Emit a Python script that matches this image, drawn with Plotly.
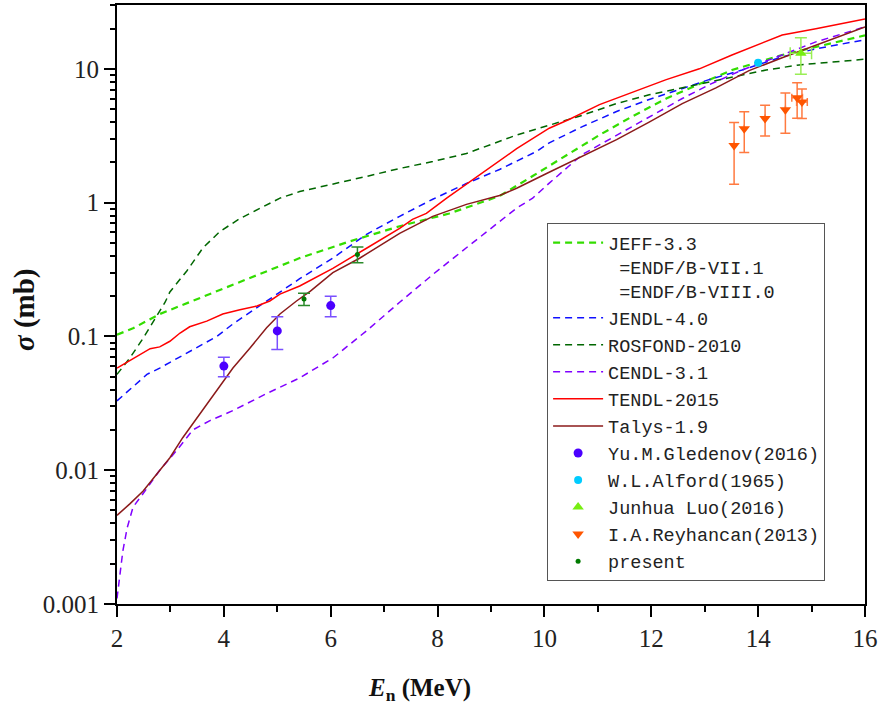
import numpy as np
import plotly.graph_objects as go

# evaluated data libraries
e_jeff = [2.0, 2.3, 2.8, 3.55, 4.49, 5.42, 6.36, 7.29, 8.22, 9.16, 9.78, 10.41, 11.03, 11.64, 12.28, 12.9, 13.51, 14.45, 15.08, 16.0]
s_jeff = [0.103, 0.115, 0.147, 0.194, 0.273, 0.385, 0.514, 0.666, 0.83, 1.12, 1.58, 2.25, 3.2, 4.4, 6.0, 7.7, 9.8, 12.7, 14.6, 17.8]

e_jendl = [2.0, 2.24, 2.56, 2.8, 3.23, 3.47, 3.87, 4.17, 4.8, 5.42, 6.04, 6.67, 7.29, 7.91, 8.54, 9.16, 9.85, 10.09, 10.71, 11.35, 11.96, 12.58, 13.08, 13.7, 14.45, 15.08, 16.0]
s_jendl = [0.033, 0.040, 0.052, 0.058, 0.072, 0.081, 0.100, 0.124, 0.184, 0.27, 0.385, 0.58, 0.79, 1.06, 1.39, 1.77, 2.41, 2.8, 3.7, 4.8, 5.9, 7.1, 8.3, 9.8, 12.3, 14.1, 16.5]

e_rosfond = [2.0, 2.24, 2.49, 2.71, 2.9, 2.99, 3.31, 3.61, 3.93, 4.3, 4.67, 5.05, 5.42, 6.04, 6.67, 7.29, 7.91, 8.54, 9.48, 10.71, 11.35, 11.96, 12.9, 13.51, 14.15, 14.77, 15.38, 16.0]
s_rosfond = [0.052, 0.069, 0.097, 0.137, 0.18, 0.215, 0.31, 0.46, 0.61, 0.76, 0.91, 1.08, 1.21, 1.37, 1.57, 1.80, 2.03, 2.33, 3.2, 4.5, 5.5, 6.4, 7.7, 8.7, 9.8, 10.7, 11.3, 11.8]

e_cendl = [2.0, 2.02, 2.06, 2.11, 2.19, 2.3, 2.49, 2.8, 3.12, 3.42, 3.74, 4.17, 4.8, 5.42, 6.04, 6.67, 7.29, 7.91, 8.54, 9.16, 9.48, 9.78, 10.09, 10.71, 11.35, 11.96, 12.58, 13.08, 13.7, 14.45, 15.08, 16.0]
s_cendl = [0.0011, 0.0013, 0.0017, 0.0025, 0.0037, 0.0053, 0.0067, 0.0100, 0.0141, 0.020, 0.0235, 0.0279, 0.0374, 0.049, 0.069, 0.11, 0.18, 0.29, 0.46, 0.72, 0.91, 1.08, 1.4, 2.29, 3.2, 4.4, 6.0, 7.6, 9.8, 12.7, 15.9, 20.6]

e_tendl = [2.0, 2.3, 2.62, 2.8, 2.99, 3.18, 3.36, 3.68, 3.98, 4.3, 4.62, 4.86, 5.05, 5.42, 6.04, 6.67, 7.29, 7.53, 7.79, 8.17, 8.54, 8.97, 9.48, 10.09, 10.47, 11.03, 11.64, 12.28, 12.9, 13.51, 14.45, 15.08, 16.0]
s_tendl = [0.058, 0.068, 0.081, 0.0835, 0.092, 0.106, 0.118, 0.130, 0.147, 0.158, 0.169, 0.184, 0.207, 0.238, 0.323, 0.456, 0.643, 0.75, 0.83, 1.08, 1.37, 1.80, 2.53, 3.6, 4.2, 5.4, 6.7, 8.3, 10.0, 12.7, 17.9, 19.9, 23.6]

e_talys = [2.0, 2.24, 2.49, 2.75, 2.99, 3.23, 3.55, 3.87, 4.17, 4.49, 4.8, 5.05, 5.36, 5.62, 6.04, 6.54, 7.29, 7.91, 8.54, 9.16, 9.48, 10.04, 10.71, 11.35, 11.96, 12.58, 13.21, 13.83, 14.45, 15.08, 16.0]
s_talys = [0.0046, 0.0056, 0.0070, 0.0094, 0.0124, 0.0175, 0.0265, 0.0393, 0.058, 0.082, 0.116, 0.147, 0.184, 0.218, 0.300, 0.384, 0.59, 0.79, 0.97, 1.13, 1.28, 1.65, 2.21, 2.96, 4.0, 5.5, 7.2, 9.7, 12.1, 15.1, 20.6]

# measurements
e_gled = [4.0, 5.0, 6.0]
s_gled = [0.060, 0.11, 0.17]
d_gled = [0.010, 0.03, 0.03]

e_alford = [14.0]
s_alford = [11.1]

e_luo = [14.8]
s_luo = [13.1]
d_luo = [4.0]
dx_luo = [0.2]

e_reyh = [13.55, 13.74, 14.13, 14.51, 14.73, 14.82]
s_reyh = [2.67, 3.57, 4.25, 4.95, 6.07, 5.66]
d_reyh = [1.3, 1.2, 1.1, 1.65, 1.8, 1.4]
dx_reyh = [0, 0, 0, 0, 0.1, 0.1]

e_present = [5.5, 6.5]
s_present = [0.19, 0.41]
d_present = [0.02, 0.055]

x_ticks = [2, 4, 6, 8, 10, 12, 14, 16]
y_ticks = [0.001, 0.01, 0.1, 1, 10]
y_ticktext = ["0.001", "0.01", "0.1", "1", "10"]

DASH = "7px,5px"

fig = go.Figure()

curves = [
    ("JEFF-3.3<br>\u00a0=ENDF/B-VII.1<br>\u00a0=ENDF/B-VIII.0", e_jeff, s_jeff, "#33dd00", 2.2, DASH),
    ("JENDL-4.0", e_jendl, s_jendl, "#1010ff", 1.5, DASH),
    ("ROSFOND-2010", e_rosfond, s_rosfond, "#006600", 1.5, DASH),
    ("CENDL-3.1", e_cendl, s_cendl, "#8000ff", 1.5, DASH),
    ("TENDL-2015", e_tendl, s_tendl, "#ff0000", 1.5, "solid"),
    ("Talys-1.9", e_talys, s_talys, "#8b1a1a", 1.5, "solid"),
]
for name, x, y, color, w, dash in curves:
    fig.add_trace(go.Scatter(x=x, y=y, mode="lines", name=name,
                             line=dict(color=color, width=w, dash=dash)))


def err(arr, color, w=6):
    return dict(type="data", array=arr, visible=True, color=color, thickness=1.5, width=w)


fig.add_trace(go.Scatter(x=e_gled, y=s_gled, mode="markers", name="Yu.M.Gledenov(2016)",
                         marker=dict(color="#4b00ff", size=9, symbol="circle"),
                         error_y=err(d_gled, "#7a50ff")))
fig.add_trace(go.Scatter(x=e_alford, y=s_alford, mode="markers", name="W.L.Alford(1965)",
                         marker=dict(color="#00ccff", size=8, symbol="circle")))
fig.add_trace(go.Scatter(x=e_luo, y=s_luo, mode="markers", name="Junhua Luo(2016)",
                         marker=dict(color="#77ee11", size=10, symbol="triangle-up"),
                         error_y=err(d_luo, "#99ee55"), error_x=err(dx_luo, "#99ee55")))
fig.add_trace(go.Scatter(x=e_reyh, y=s_reyh, mode="markers", name="I.A.Reyhancan(2013)",
                         marker=dict(color="#ff5500", size=10, symbol="triangle-down"),
                         error_y=err(d_reyh, "#ff7a40", 5), error_x=err(dx_reyh, "#ff7a40", 4)))
fig.add_trace(go.Scatter(x=e_present, y=s_present, mode="markers", name="present",
                         marker=dict(color="#007a00", size=5, symbol="circle"),
                         error_y=err(d_present, "#2a8a2a")))

tick_font = dict(family="Liberation Serif", size=25, color="#222222")
y_minor = [k * 10.0 ** n for n in range(-3, 2) for k in range(2, 10) if k * 10.0 ** n <= 30]

fig.update_xaxes(range=[2, 16], tickvals=x_ticks, ticks="outside", ticklen=11, tickwidth=2,
                 tickcolor="black", showline=True, linewidth=2, linecolor="black", mirror=True,
                 showgrid=False, zeroline=False, tickfont=tick_font,
                 minor=dict(dtick=1, tick0=2, ticks="outside", ticklen=6, tickwidth=1.5,
                            tickcolor="black", showgrid=False))
fig.update_yaxes(type="log", range=[-3, np.log10(30)], tickvals=y_ticks, ticktext=y_ticktext,
                 ticks="outside", ticklen=11, tickwidth=2, tickcolor="black", showline=True,
                 linewidth=2, linecolor="black", mirror=True, showgrid=False, zeroline=False,
                 tickfont=tick_font,
                 minor=dict(tickvals=y_minor, ticks="outside", ticklen=5, tickwidth=1.5,
                            tickcolor="black", showgrid=False))

fig.add_annotation(text="<b><i>E</i><sub>n</sub> (MeV)</b>", xref="paper", yref="paper",
                   x=0.405, y=-0.143, showarrow=False,
                   font=dict(family="Liberation Serif", size=25, color="#111111"),
                   xanchor="center", yanchor="middle")
fig.add_annotation(text="<b><i>σ</i> (mb)</b>", xref="paper", yref="paper",
                   x=-0.123, y=0.4925, showarrow=False, textangle=-90,
                   font=dict(family="Liberation Serif", size=29, color="#111111"),
                   xanchor="center", yanchor="middle")

fig.update_layout(
    width=881, height=711, autosize=False,
    margin=dict(l=117, r=15, t=3, b=107),
    plot_bgcolor="white", paper_bgcolor="white",
    legend=dict(x=0.575, y=0.636, xanchor="left", yanchor="top",
                bgcolor="white", bordercolor="#555555", borderwidth=1,
                font=dict(family="Liberation Mono", size=18.5, color="#222222"),
                itemwidth=50, valign="top", tracegroupgap=0),
)

# page has a default 8px body margin; drop it so the figure sits at the corner
fig.write_html("out.html", config={"displayModeBar": False},
               post_script="document.body.style.margin = '0';")
